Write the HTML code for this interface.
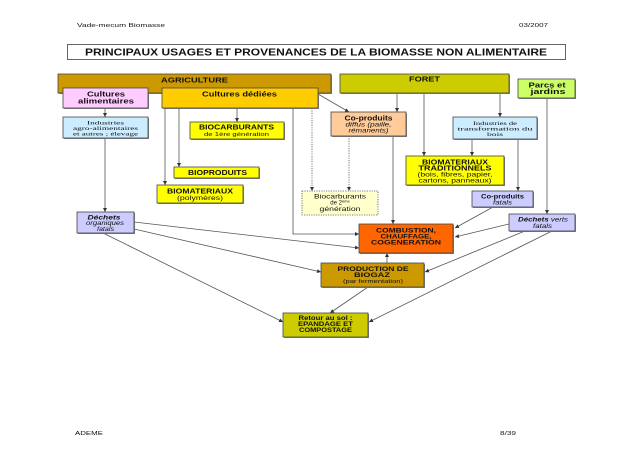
<!DOCTYPE html>
<html><head><meta charset="utf-8"><style>
html,body{margin:0;padding:0;background:#fff;}
svg{display:block;}
text{font-family:"Liberation Sans",sans-serif;fill:#111;}
.b{font-weight:bold;}
.s{font-family:"Liberation Serif",serif;}
.i{font-style:italic;}
</style></head><body>
<svg width="625" height="458" viewBox="0 0 625 458" xmlns="http://www.w3.org/2000/svg">
<defs>
<marker id="a" markerUnits="userSpaceOnUse" markerWidth="5" markerHeight="5" refX="4" refY="2" orient="auto"><path d="M0,0 L4,2 L0,4 z" fill="#333"/></marker>
</defs>
<rect width="625" height="458" fill="#fff"/>
<!-- header / footer -->
<text x="77" y="27" font-size="5.5" fill="#333" textLength="88" lengthAdjust="spacingAndGlyphs">Vade-mecum Biomasse</text>
<text x="519" y="27" font-size="5.5" fill="#333" textLength="29" lengthAdjust="spacingAndGlyphs">03/2007</text>
<text x="75" y="435" font-size="5.5" fill="#333" textLength="28" lengthAdjust="spacingAndGlyphs">ADEME</text>
<text x="500" y="435" font-size="5.5" fill="#333" textLength="16" lengthAdjust="spacingAndGlyphs">8/39</text>
<!-- title -->
<rect x="67.5" y="44.5" width="498" height="15" fill="#fff" stroke="#555" stroke-width="0.9"/>
<text x="316" y="55.5" font-size="10" class="b" text-anchor="middle" textLength="462" lengthAdjust="spacingAndGlyphs">PRINCIPAUX USAGES ET PROVENANCES DE LA BIOMASSE NON ALIMENTAIRE</text>

<g stroke="#555" stroke-width="0.8" fill="none">
<!-- connectors -->
<line x1="105" y1="108" x2="105" y2="117" marker-end="url(#a)"/>
<line x1="237" y1="108" x2="237" y2="122" marker-end="url(#a)"/>
<line x1="179" y1="108" x2="179" y2="167" marker-end="url(#a)"/>
<line x1="165" y1="108" x2="165" y2="185" marker-end="url(#a)"/>
<polyline points="293,108 293,234 359,234" marker-end="url(#a)"/>
<line x1="312" y1="108" x2="312" y2="191" stroke-dasharray="1.2,1.2" marker-end="url(#a)"/>
<line x1="318" y1="94" x2="349" y2="112" marker-end="url(#a)"/>
<line x1="105" y1="138" x2="105" y2="212" marker-end="url(#a)"/>
<line x1="397" y1="93" x2="397" y2="112" marker-end="url(#a)"/>
<line x1="424" y1="93" x2="424" y2="156" marker-end="url(#a)"/>
<line x1="500" y1="93" x2="500" y2="117" marker-end="url(#a)"/>
<line x1="472" y1="139" x2="472" y2="156" marker-end="url(#a)"/>
<line x1="518" y1="139" x2="518" y2="191" marker-end="url(#a)"/>
<line x1="547" y1="98" x2="547" y2="214" marker-end="url(#a)"/>
<line x1="393" y1="136" x2="393" y2="224" marker-end="url(#a)"/>
<line x1="349" y1="136" x2="349" y2="191" stroke-dasharray="1.2,1.2" marker-end="url(#a)"/>
<line x1="493" y1="207" x2="455" y2="228" marker-end="url(#a)"/>
<line x1="509" y1="224" x2="455" y2="237" marker-end="url(#a)"/>
<line x1="525" y1="231" x2="425" y2="272" marker-end="url(#a)"/>
<line x1="552" y1="231" x2="369" y2="322" marker-end="url(#a)"/>
<line x1="134" y1="222" x2="359" y2="248" marker-end="url(#a)"/>
<line x1="134" y1="229" x2="321" y2="272" marker-end="url(#a)"/>
<line x1="103" y1="233" x2="283" y2="322" marker-end="url(#a)"/>
<line x1="387" y1="263" x2="387" y2="253" marker-end="url(#a)"/>
<line x1="368" y1="287" x2="330" y2="313" marker-end="url(#a)"/>
</g>

<!-- boxes: shadow + rect -->
<g fill="#888">
<rect x="59" y="75" width="273" height="19"/>
<rect x="341" y="75" width="169" height="19"/>
<rect x="519" y="80" width="57" height="19"/>
<rect x="64" y="89" width="85" height="20"/>
<rect x="163" y="89" width="156" height="20"/>
<rect x="64" y="118" width="85" height="21"/>
<rect x="191" y="123" width="94" height="17"/>
<rect x="332" y="113" width="75" height="24"/>
<rect x="454" y="118" width="84" height="22"/>
<rect x="175" y="168" width="85" height="11"/>
<rect x="158" y="186" width="86" height="18"/>
<rect x="407" y="157" width="98" height="29"/>
<rect x="78" y="213" width="57" height="21"/>
<rect x="473" y="192" width="61" height="16"/>
<rect x="510" y="215" width="66" height="17"/>
<rect x="360" y="225" width="94" height="29"/>
<rect x="322" y="264" width="103" height="24"/>
<rect x="284" y="314" width="85" height="24"/>
</g>
<g stroke="#444" stroke-width="0.8">
<rect x="58" y="74" width="273" height="19" fill="#CC9900"/>
<rect x="340" y="74" width="169" height="19" fill="#CCCC00"/>
<rect x="518" y="79" width="57" height="19" fill="#CCFF66"/>
<rect x="63" y="88" width="85" height="20" fill="#FFCCFF"/>
<rect x="162" y="88" width="156" height="20" fill="#FFCC00"/>
<rect x="63" y="117" width="85" height="21" fill="#CCECFF"/>
<rect x="190" y="122" width="94" height="17" fill="#FFFF00"/>
<rect x="331" y="112" width="75" height="24" fill="#FFCC99"/>
<rect x="453" y="117" width="84" height="22" fill="#CCECFF"/>
<rect x="174" y="167" width="85" height="11" fill="#FFFF00"/>
<rect x="157" y="185" width="86" height="18" fill="#FFFF00"/>
<rect x="406" y="156" width="98" height="29" fill="#FFFF00"/>
<rect x="77" y="212" width="57" height="21" fill="#CCCCFF"/>
<rect x="472" y="191" width="61" height="16" fill="#CCCCFF"/>
<rect x="509" y="214" width="66" height="17" fill="#CCCCFF"/>
<rect x="359" y="224" width="94" height="29" fill="#FF6600"/>
<rect x="321" y="263" width="103" height="24" fill="#CC9900"/>
<rect x="283" y="313" width="85" height="24" fill="#CCCC00"/>
</g>
<rect x="302" y="191" width="76" height="24" fill="#FFFFCC" stroke="#555" stroke-width="0.8" stroke-dasharray="1.2,1.2"/>

<!-- labels -->
<g text-anchor="middle">
<text x="194.5" y="82.5" font-size="7" class="b" textLength="67" lengthAdjust="spacingAndGlyphs">AGRICULTURE</text>
<text x="424.5" y="81.5" font-size="7" class="b" textLength="31" lengthAdjust="spacingAndGlyphs">FORET</text>
<text x="547" y="87.5" font-size="7" class="b" textLength="37" lengthAdjust="spacingAndGlyphs">Parcs et</text>
<text x="548" y="94" font-size="7" class="b" textLength="35" lengthAdjust="spacingAndGlyphs">jardins</text>
<text x="106" y="96.5" font-size="7" class="b" textLength="38" lengthAdjust="spacingAndGlyphs">Cultures</text>
<text x="106" y="103.5" font-size="7" class="b" textLength="56" lengthAdjust="spacingAndGlyphs">alimentaires</text>
<text x="239.5" y="96.5" font-size="7" class="b" textLength="75" lengthAdjust="spacingAndGlyphs">Cultures dédiées</text>
<text x="105.5" y="124.5" font-size="5.5" class="s" textLength="37" lengthAdjust="spacingAndGlyphs">Industries</text>
<text x="105.5" y="130" font-size="5.5" class="s" textLength="65" lengthAdjust="spacingAndGlyphs">agro-alimentaires</text>
<text x="105.5" y="135.5" font-size="5.5" class="s" textLength="65" lengthAdjust="spacingAndGlyphs">et autres ; élevage</text>
<text x="236.5" y="129.5" font-size="7" class="b" textLength="75" lengthAdjust="spacingAndGlyphs">BIOCARBURANTS</text>
<text x="236.5" y="136" font-size="5.5" textLength="65" lengthAdjust="spacingAndGlyphs">de 1ère génération</text>
<text x="368.5" y="120.5" font-size="7" class="b" textLength="48" lengthAdjust="spacingAndGlyphs">Co-produits</text>
<text x="368.5" y="126.5" font-size="6" class="i" textLength="46" lengthAdjust="spacingAndGlyphs">diffus (paille,</text>
<text x="368.5" y="132.5" font-size="6" class="i" textLength="40" lengthAdjust="spacingAndGlyphs">rémanents)</text>
<text x="495" y="125" font-size="5.5" class="s" textLength="44" lengthAdjust="spacingAndGlyphs">Industries de</text>
<text x="495" y="130.5" font-size="5.5" class="s" textLength="75" lengthAdjust="spacingAndGlyphs">transformation du</text>
<text x="495" y="136" font-size="5.5" class="s" textLength="16" lengthAdjust="spacingAndGlyphs">bois</text>
<text x="217.5" y="174.8" font-size="7" class="b" textLength="59" lengthAdjust="spacingAndGlyphs">BIOPRODUITS</text>
<text x="200" y="193.5" font-size="7" class="b" textLength="66" lengthAdjust="spacingAndGlyphs">BIOMATERIAUX</text>
<text x="200" y="200" font-size="6" textLength="46" lengthAdjust="spacingAndGlyphs">(polymères)</text>
<text x="455" y="164.5" font-size="7" class="b" textLength="66" lengthAdjust="spacingAndGlyphs">BIOMATERIAUX</text>
<text x="455" y="170.5" font-size="7" class="b" textLength="73" lengthAdjust="spacingAndGlyphs">TRADITIONNELS</text>
<text x="455" y="176.5" font-size="6" textLength="75" lengthAdjust="spacingAndGlyphs">(bois, fibres, papier,</text>
<text x="455" y="182.5" font-size="6" textLength="73" lengthAdjust="spacingAndGlyphs">cartons, panneaux)</text>
<text x="104" y="219.5" font-size="6" class="b i" textLength="33" lengthAdjust="spacingAndGlyphs">Déchets</text>
<text x="105" y="225.2" font-size="6" class="i" textLength="38" lengthAdjust="spacingAndGlyphs">organiques</text>
<text x="105.5" y="230.8" font-size="6" class="i" textLength="17" lengthAdjust="spacingAndGlyphs">fatals</text>
<text x="502.5" y="198.5" font-size="6" class="b" textLength="43" lengthAdjust="spacingAndGlyphs">Co-produits</text>
<text x="502.5" y="204.5" font-size="6" class="i" textLength="19" lengthAdjust="spacingAndGlyphs">fatals</text>
<text x="543" y="221.5" font-size="6" class="i" textLength="50" lengthAdjust="spacingAndGlyphs"><tspan class="b">Déchets</tspan> verts</text>
<text x="542.5" y="227.8" font-size="6" class="i" textLength="19" lengthAdjust="spacingAndGlyphs">fatals</text>
<text x="340" y="198.5" font-size="6" fill="#333" textLength="52" lengthAdjust="spacingAndGlyphs">Biocarburants</text>
<text x="340" y="204.5" font-size="6" fill="#333">de 2<tspan font-size="4" dy="-2">ème</tspan></text>
<text x="340" y="210.8" font-size="6" fill="#333" textLength="41" lengthAdjust="spacingAndGlyphs">génération</text>
<text x="406" y="232.5" font-size="6.5" class="b" textLength="60" lengthAdjust="spacingAndGlyphs">COMBUSTION,</text>
<text x="406" y="238.5" font-size="6.5" class="b" textLength="51" lengthAdjust="spacingAndGlyphs">CHAUFFAGE,</text>
<text x="406" y="244.5" font-size="6.5" class="b" textLength="70" lengthAdjust="spacingAndGlyphs">COGENERATION</text>
<text x="373" y="271" font-size="6.5" class="b" textLength="71" lengthAdjust="spacingAndGlyphs">PRODUCTION DE</text>
<text x="372" y="277.2" font-size="6.5" class="b" textLength="36" lengthAdjust="spacingAndGlyphs">BIOGAZ</text>
<text x="373" y="283" font-size="5.5" textLength="60" lengthAdjust="spacingAndGlyphs">(par fermentation)</text>
<text x="325.5" y="320" font-size="6" class="b" textLength="54" lengthAdjust="spacingAndGlyphs">Retour au sol :</text>
<text x="325.5" y="326" font-size="6" class="b" textLength="55" lengthAdjust="spacingAndGlyphs">EPANDAGE ET</text>
<text x="325.5" y="332" font-size="6" class="b" textLength="53" lengthAdjust="spacingAndGlyphs">COMPOSTAGE</text>
</g>
</svg>
</body></html>
